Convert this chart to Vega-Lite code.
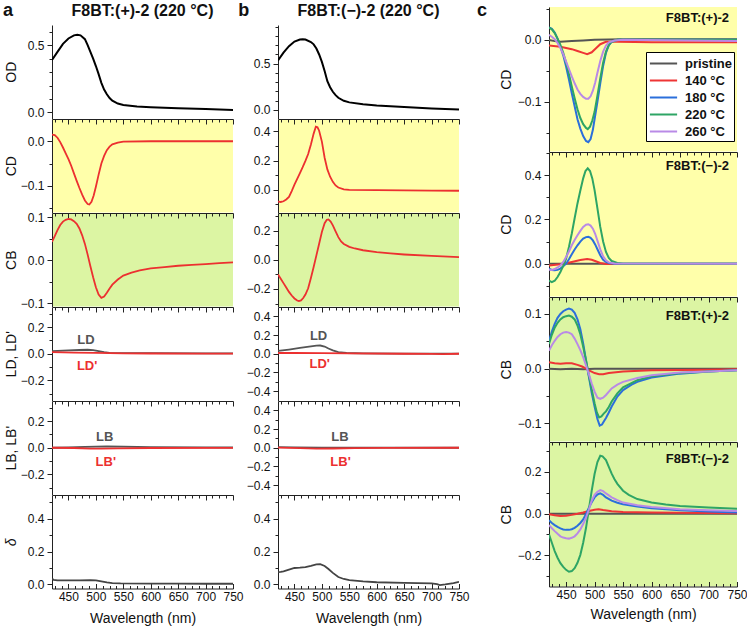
{
"$schema":"https://vega.github.io/schema/vega-lite/v6.json",
"padding":{"left":3,"top":1,"right":0,"bottom":0},
"datasets":{
"odP":[{"w":420,"v":0.39},{"w":430,"v":0.45},{"w":440,"v":0.51},{"w":450,"v":0.55},{"w":460,"v":0.573},{"w":466,"v":0.578},{"w":472,"v":0.573},{"w":480,"v":0.545},{"w":485,"v":0.5},{"w":490,"v":0.45},{"w":495,"v":0.4},{"w":500,"v":0.345},{"w":505,"v":0.285},{"w":510,"v":0.22},{"w":515,"v":0.17},{"w":520,"v":0.135},{"w":525,"v":0.107},{"w":530,"v":0.088},{"w":540,"v":0.066},{"w":550,"v":0.055},{"w":575,"v":0.045},{"w":600,"v":0.039},{"w":650,"v":0.031},{"w":700,"v":0.025},{"w":750,"v":0.019}],
"odM":[{"w":420,"v":0.535},{"w":430,"v":0.62},{"w":440,"v":0.69},{"w":450,"v":0.74},{"w":460,"v":0.763},{"w":465,"v":0.766},{"w":470,"v":0.762},{"w":480,"v":0.735},{"w":485,"v":0.71},{"w":490,"v":0.665},{"w":495,"v":0.6},{"w":500,"v":0.52},{"w":505,"v":0.42},{"w":510,"v":0.31},{"w":515,"v":0.245},{"w":520,"v":0.195},{"w":525,"v":0.158},{"w":530,"v":0.13},{"w":540,"v":0.097},{"w":550,"v":0.08},{"w":575,"v":0.06},{"w":600,"v":0.047},{"w":650,"v":0.029},{"w":700,"v":0.014},{"w":750,"v":0.004}],
"cdP":[{"w":420,"v":0.015},{"w":425,"v":0.014},{"w":430,"v":0.008},{"w":435,"v":-0.002},{"w":440,"v":-0.014},{"w":445,"v":-0.027},{"w":450,"v":-0.04},{"w":455,"v":-0.055},{"w":460,"v":-0.072},{"w":465,"v":-0.089},{"w":470,"v":-0.105},{"w":475,"v":-0.12},{"w":480,"v":-0.133},{"w":485,"v":-0.141},{"w":488,"v":-0.142},{"w":492,"v":-0.136},{"w":496,"v":-0.122},{"w":500,"v":-0.102},{"w":505,"v":-0.075},{"w":510,"v":-0.05},{"w":515,"v":-0.033},{"w":520,"v":-0.02},{"w":525,"v":-0.012},{"w":530,"v":-0.007},{"w":540,"v":-0.003},{"w":550,"v":-0.001},{"w":600,"v":0.0},{"w":650,"v":0.0},{"w":700,"v":0.0},{"w":750,"v":0.0}],
"cdM":[{"w":420,"v":-0.08},{"w":425,"v":-0.083},{"w":430,"v":-0.078},{"w":435,"v":-0.066},{"w":440,"v":-0.048},{"w":445,"v":-0.008},{"w":450,"v":0.035},{"w":455,"v":0.075},{"w":460,"v":0.115},{"w":465,"v":0.155},{"w":470,"v":0.198},{"w":475,"v":0.245},{"w":480,"v":0.31},{"w":485,"v":0.385},{"w":489,"v":0.432},{"w":492,"v":0.428},{"w":495,"v":0.405},{"w":500,"v":0.33},{"w":505,"v":0.22},{"w":510,"v":0.14},{"w":515,"v":0.09},{"w":520,"v":0.055},{"w":525,"v":0.03},{"w":530,"v":0.016},{"w":540,"v":0.004},{"w":550,"v":0.0},{"w":600,"v":-0.002},{"w":650,"v":-0.004},{"w":700,"v":-0.005},{"w":750,"v":-0.006}],
"cbP":[{"w":420,"v":0.043},{"w":425,"v":0.056},{"w":430,"v":0.07},{"w":435,"v":0.082},{"w":440,"v":0.09},{"w":445,"v":0.094},{"w":450,"v":0.096},{"w":455,"v":0.095},{"w":460,"v":0.091},{"w":465,"v":0.085},{"w":470,"v":0.074},{"w":475,"v":0.058},{"w":480,"v":0.038},{"w":485,"v":0.013},{"w":490,"v":-0.014},{"w":495,"v":-0.04},{"w":500,"v":-0.063},{"w":505,"v":-0.08},{"w":510,"v":-0.088},{"w":515,"v":-0.085},{"w":520,"v":-0.076},{"w":525,"v":-0.066},{"w":530,"v":-0.057},{"w":540,"v":-0.045},{"w":550,"v":-0.036},{"w":565,"v":-0.029},{"w":580,"v":-0.024},{"w":600,"v":-0.019},{"w":625,"v":-0.016},{"w":650,"v":-0.013},{"w":675,"v":-0.011},{"w":700,"v":-0.009},{"w":725,"v":-0.007},{"w":750,"v":-0.005}],
"cbM":[{"w":420,"v":-0.1},{"w":425,"v":-0.13},{"w":430,"v":-0.16},{"w":435,"v":-0.19},{"w":440,"v":-0.22},{"w":445,"v":-0.245},{"w":450,"v":-0.265},{"w":455,"v":-0.279},{"w":458,"v":-0.283},{"w":462,"v":-0.278},{"w":466,"v":-0.262},{"w":470,"v":-0.238},{"w":475,"v":-0.195},{"w":480,"v":-0.125},{"w":485,"v":-0.05},{"w":490,"v":0.03},{"w":495,"v":0.11},{"w":500,"v":0.19},{"w":505,"v":0.25},{"w":509,"v":0.274},{"w":512,"v":0.276},{"w":516,"v":0.262},{"w":520,"v":0.235},{"w":525,"v":0.195},{"w":530,"v":0.155},{"w":535,"v":0.125},{"w":540,"v":0.108},{"w":550,"v":0.088},{"w":560,"v":0.077},{"w":575,"v":0.065},{"w":600,"v":0.052},{"w":625,"v":0.043},{"w":650,"v":0.036},{"w":700,"v":0.026},{"w":750,"v":0.018}],
"ldP":[{"s":"LD","w":420,"v":0.02},{"s":"LD","w":430,"v":0.022},{"s":"LD","w":450,"v":0.025},{"s":"LD","w":470,"v":0.028},{"s":"LD","w":485,"v":0.03},{"s":"LD","w":495,"v":0.027},{"s":"LD","w":505,"v":0.02},{"s":"LD","w":515,"v":0.012},{"s":"LD","w":525,"v":0.007},{"s":"LD","w":540,"v":0.005},{"s":"LD","w":600,"v":0.004},{"s":"LD","w":700,"v":0.003},{"s":"LD","w":750,"v":0.003},
{"s":"LD'","w":420,"v":0.012},{"s":"LD'","w":440,"v":0.01},{"s":"LD'","w":460,"v":0.008},{"s":"LD'","w":500,"v":0.006},{"s":"LD'","w":550,"v":0.003},{"s":"LD'","w":600,"v":0.002},{"s":"LD'","w":700,"v":0.001},{"s":"LD'","w":750,"v":0.001}],
"lbP":[{"s":"LB","w":420,"v":0.0},{"s":"LB","w":450,"v":0.002},{"s":"LB","w":480,"v":0.006},{"s":"LB","w":500,"v":0.009},{"s":"LB","w":520,"v":0.01},{"s":"LB","w":550,"v":0.008},{"s":"LB","w":600,"v":0.005},{"s":"LB","w":700,"v":0.003},{"s":"LB","w":750,"v":0.002},
{"s":"LB'","w":420,"v":0.0},{"s":"LB'","w":460,"v":-0.002},{"s":"LB'","w":490,"v":-0.006},{"s":"LB'","w":510,"v":-0.007},{"s":"LB'","w":540,"v":-0.004},{"s":"LB'","w":600,"v":-0.002},{"s":"LB'","w":750,"v":-0.001}],
"dP":[{"w":420,"v":0.035},{"w":423,"v":0.028},{"w":430,"v":0.025},{"w":450,"v":0.024},{"w":470,"v":0.025},{"w":490,"v":0.026},{"w":500,"v":0.024},{"w":510,"v":0.018},{"w":520,"v":0.012},{"w":530,"v":0.008},{"w":545,"v":0.006},{"w":600,"v":0.005},{"w":650,"v":0.005},{"w":700,"v":0.004},{"w":750,"v":0.004}],
"ldM":[{"s":"LD","w":420,"v":0.03},{"s":"LD","w":440,"v":0.045},{"s":"LD","w":460,"v":0.062},{"s":"LD","w":480,"v":0.078},{"s":"LD","w":490,"v":0.086},{"s":"LD","w":497,"v":0.088},{"s":"LD","w":505,"v":0.077},{"s":"LD","w":512,"v":0.056},{"s":"LD","w":520,"v":0.036},{"s":"LD","w":530,"v":0.018},{"s":"LD","w":545,"v":0.008},{"s":"LD","w":575,"v":0.004},{"s":"LD","w":650,"v":0.002},{"s":"LD","w":750,"v":0.001},
{"s":"LD'","w":420,"v":0.008},{"s":"LD'","w":450,"v":0.008},{"s":"LD'","w":500,"v":0.006},{"s":"LD'","w":550,"v":0.003},{"s":"LD'","w":650,"v":0.0},{"s":"LD'","w":700,"v":-0.002},{"s":"LD'","w":720,"v":-0.004},{"s":"LD'","w":750,"v":0.0}],
"lbM":[{"s":"LB","w":420,"v":0.006},{"s":"LB","w":450,"v":0.004},{"s":"LB","w":500,"v":0.002},{"s":"LB","w":600,"v":0.001},{"s":"LB","w":750,"v":0.0},
{"s":"LB'","w":420,"v":0.002},{"s":"LB'","w":460,"v":-0.004},{"s":"LB'","w":490,"v":-0.01},{"s":"LB'","w":520,"v":-0.008},{"s":"LB'","w":560,"v":-0.003},{"s":"LB'","w":620,"v":-0.001},{"s":"LB'","w":750,"v":0.0}],
"dM":[{"w":420,"v":0.075},{"w":425,"v":0.076},{"w":430,"v":0.08},{"w":440,"v":0.09},{"w":450,"v":0.1},{"w":460,"v":0.102},{"w":470,"v":0.105},{"w":480,"v":0.113},{"w":490,"v":0.122},{"w":497,"v":0.123},{"w":505,"v":0.112},{"w":512,"v":0.094},{"w":520,"v":0.07},{"w":530,"v":0.045},{"w":540,"v":0.033},{"w":550,"v":0.026},{"w":575,"v":0.018},{"w":600,"v":0.013},{"w":650,"v":0.009},{"w":700,"v":0.006},{"w":710,"v":0.002},{"w":715,"v":-0.004},{"w":725,"v":0.0},{"w":740,"v":0.008},{"w":750,"v":0.016}],
"c1":[{"s":"pristine","w":420,"v":0.0},{"s":"pristine","w":430,"v":-0.002},{"s":"pristine","w":440,"v":-0.003},{"s":"pristine","w":460,"v":-0.002},{"s":"pristine","w":480,"v":-0.001},{"s":"pristine","w":500,"v":0.0},{"s":"pristine","w":550,"v":0.001},{"s":"pristine","w":650,"v":0.001},{"s":"pristine","w":750,"v":0.001},
{"s":"140 °C","w":420,"v":-0.009},{"s":"140 °C","w":440,"v":-0.011},{"s":"140 °C","w":460,"v":-0.015},{"s":"140 °C","w":470,"v":-0.018},{"s":"140 °C","w":480,"v":-0.021},{"s":"140 °C","w":487,"v":-0.023},{"s":"140 °C","w":495,"v":-0.02},{"s":"140 °C","w":502,"v":-0.014},{"s":"140 °C","w":510,"v":-0.007},{"s":"140 °C","w":520,"v":-0.003},{"s":"140 °C","w":540,"v":-0.003},{"s":"140 °C","w":600,"v":-0.004},{"s":"140 °C","w":750,"v":-0.004},
{"s":"180 °C","w":420,"v":0.02},{"s":"180 °C","w":425,"v":0.018},{"s":"180 °C","w":430,"v":0.012},{"s":"180 °C","w":435,"v":0.002},{"s":"180 °C","w":440,"v":-0.011},{"s":"180 °C","w":445,"v":-0.025},{"s":"180 °C","w":450,"v":-0.043},{"s":"180 °C","w":455,"v":-0.064},{"s":"180 °C","w":460,"v":-0.086},{"s":"180 °C","w":465,"v":-0.107},{"s":"180 °C","w":470,"v":-0.128},{"s":"180 °C","w":475,"v":-0.143},{"s":"180 °C","w":480,"v":-0.155},{"s":"180 °C","w":485,"v":-0.163},{"s":"180 °C","w":489,"v":-0.165},{"s":"180 °C","w":493,"v":-0.16},{"s":"180 °C","w":497,"v":-0.145},{"s":"180 °C","w":500,"v":-0.128},{"s":"180 °C","w":505,"v":-0.1},{"s":"180 °C","w":510,"v":-0.07},{"s":"180 °C","w":515,"v":-0.042},{"s":"180 °C","w":520,"v":-0.021},{"s":"180 °C","w":525,"v":-0.009},{"s":"180 °C","w":530,"v":-0.003},{"s":"180 °C","w":540,"v":0.0},{"s":"180 °C","w":750,"v":0.0},
{"s":"220 °C","w":420,"v":0.02},{"s":"220 °C","w":425,"v":0.017},{"s":"220 °C","w":430,"v":0.011},{"s":"220 °C","w":435,"v":0.002},{"s":"220 °C","w":440,"v":-0.008},{"s":"220 °C","w":445,"v":-0.021},{"s":"220 °C","w":450,"v":-0.037},{"s":"220 °C","w":455,"v":-0.055},{"s":"220 °C","w":460,"v":-0.075},{"s":"220 °C","w":465,"v":-0.094},{"s":"220 °C","w":470,"v":-0.112},{"s":"220 °C","w":475,"v":-0.126},{"s":"220 °C","w":480,"v":-0.136},{"s":"220 °C","w":485,"v":-0.142},{"s":"220 °C","w":488,"v":-0.144},{"s":"220 °C","w":492,"v":-0.14},{"s":"220 °C","w":496,"v":-0.13},{"s":"220 °C","w":500,"v":-0.116},{"s":"220 °C","w":505,"v":-0.09},{"s":"220 °C","w":510,"v":-0.062},{"s":"220 °C","w":515,"v":-0.037},{"s":"220 °C","w":520,"v":-0.019},{"s":"220 °C","w":525,"v":-0.008},{"s":"220 °C","w":530,"v":-0.003},{"s":"220 °C","w":540,"v":0.0},{"s":"220 °C","w":750,"v":0.0},
{"s":"260 °C","w":420,"v":0.008},{"s":"260 °C","w":425,"v":0.005},{"s":"260 °C","w":430,"v":0.001},{"s":"260 °C","w":435,"v":-0.005},{"s":"260 °C","w":440,"v":-0.013},{"s":"260 °C","w":445,"v":-0.023},{"s":"260 °C","w":450,"v":-0.035},{"s":"260 °C","w":455,"v":-0.047},{"s":"260 °C","w":460,"v":-0.059},{"s":"260 °C","w":465,"v":-0.07},{"s":"260 °C","w":470,"v":-0.08},{"s":"260 °C","w":475,"v":-0.087},{"s":"260 °C","w":480,"v":-0.092},{"s":"260 °C","w":485,"v":-0.095},{"s":"260 °C","w":489,"v":-0.095},{"s":"260 °C","w":493,"v":-0.091},{"s":"260 °C","w":497,"v":-0.082},{"s":"260 °C","w":501,"v":-0.069},{"s":"260 °C","w":505,"v":-0.053},{"s":"260 °C","w":510,"v":-0.034},{"s":"260 °C","w":515,"v":-0.019},{"s":"260 °C","w":520,"v":-0.009},{"s":"260 °C","w":525,"v":-0.004},{"s":"260 °C","w":535,"v":-0.001},{"s":"260 °C","w":550,"v":0.0},{"s":"260 °C","w":750,"v":-0.002}],
"c2":[{"s":"pristine","w":420,"v":0.0},{"s":"pristine","w":500,"v":0.0},{"s":"pristine","w":750,"v":0.0},
{"s":"140 °C","w":420,"v":-0.008},{"s":"140 °C","w":440,"v":-0.003},{"s":"140 °C","w":460,"v":0.008},{"s":"140 °C","w":475,"v":0.017},{"s":"140 °C","w":487,"v":0.021},{"s":"140 °C","w":495,"v":0.018},{"s":"140 °C","w":502,"v":0.011},{"s":"140 °C","w":510,"v":0.003},{"s":"140 °C","w":520,"v":-0.001},{"s":"140 °C","w":750,"v":-0.001},
{"s":"180 °C","w":420,"v":-0.023},{"s":"180 °C","w":425,"v":-0.028},{"s":"180 °C","w":430,"v":-0.03},{"s":"180 °C","w":435,"v":-0.028},{"s":"180 °C","w":440,"v":-0.022},{"s":"180 °C","w":445,"v":-0.012},{"s":"180 °C","w":450,"v":0.0},{"s":"180 °C","w":455,"v":0.02},{"s":"180 °C","w":460,"v":0.043},{"s":"180 °C","w":465,"v":0.064},{"s":"180 °C","w":470,"v":0.083},{"s":"180 °C","w":475,"v":0.1},{"s":"180 °C","w":480,"v":0.113},{"s":"180 °C","w":485,"v":0.12},{"s":"180 °C","w":489,"v":0.121},{"s":"180 °C","w":493,"v":0.117},{"s":"180 °C","w":497,"v":0.105},{"s":"180 °C","w":501,"v":0.087},{"s":"180 °C","w":505,"v":0.065},{"s":"180 °C","w":510,"v":0.038},{"s":"180 °C","w":515,"v":0.018},{"s":"180 °C","w":520,"v":0.008},{"s":"180 °C","w":525,"v":0.003},{"s":"180 °C","w":535,"v":0.0},{"s":"180 °C","w":750,"v":0.0},
{"s":"220 °C","w":420,"v":-0.076},{"s":"220 °C","w":425,"v":-0.083},{"s":"220 °C","w":430,"v":-0.077},{"s":"220 °C","w":435,"v":-0.06},{"s":"220 °C","w":440,"v":-0.038},{"s":"220 °C","w":445,"v":-0.01},{"s":"220 °C","w":450,"v":0.023},{"s":"220 °C","w":455,"v":0.075},{"s":"220 °C","w":460,"v":0.136},{"s":"220 °C","w":465,"v":0.205},{"s":"220 °C","w":470,"v":0.272},{"s":"220 °C","w":475,"v":0.33},{"s":"220 °C","w":480,"v":0.385},{"s":"220 °C","w":484,"v":0.418},{"s":"220 °C","w":488,"v":0.43},{"s":"220 °C","w":492,"v":0.418},{"s":"220 °C","w":496,"v":0.385},{"s":"220 °C","w":500,"v":0.332},{"s":"220 °C","w":505,"v":0.25},{"s":"220 °C","w":510,"v":0.166},{"s":"220 °C","w":515,"v":0.1},{"s":"220 °C","w":520,"v":0.053},{"s":"220 °C","w":525,"v":0.026},{"s":"220 °C","w":530,"v":0.012},{"s":"220 °C","w":540,"v":0.003},{"s":"220 °C","w":550,"v":0.0},{"s":"220 °C","w":750,"v":0.0},
{"s":"260 °C","w":420,"v":-0.027},{"s":"260 °C","w":425,"v":-0.028},{"s":"260 °C","w":430,"v":-0.024},{"s":"260 °C","w":435,"v":-0.017},{"s":"260 °C","w":440,"v":-0.008},{"s":"260 °C","w":445,"v":0.008},{"s":"260 °C","w":450,"v":0.03},{"s":"260 °C","w":455,"v":0.055},{"s":"260 °C","w":460,"v":0.083},{"s":"260 °C","w":465,"v":0.107},{"s":"260 °C","w":470,"v":0.128},{"s":"260 °C","w":475,"v":0.148},{"s":"260 °C","w":480,"v":0.166},{"s":"260 °C","w":485,"v":0.176},{"s":"260 °C","w":489,"v":0.178},{"s":"260 °C","w":493,"v":0.172},{"s":"260 °C","w":497,"v":0.158},{"s":"260 °C","w":501,"v":0.135},{"s":"260 °C","w":505,"v":0.104},{"s":"260 °C","w":510,"v":0.065},{"s":"260 °C","w":515,"v":0.033},{"s":"260 °C","w":520,"v":0.015},{"s":"260 °C","w":525,"v":0.006},{"s":"260 °C","w":535,"v":0.001},{"s":"260 °C","w":750,"v":0.0}],
"c3":[{"s":"pristine","w":420,"v":0.0},{"s":"pristine","w":440,"v":-0.001},{"s":"pristine","w":460,"v":0.0},{"s":"pristine","w":480,"v":-0.001},{"s":"pristine","w":500,"v":0.0},{"s":"pristine","w":600,"v":0.0},{"s":"pristine","w":750,"v":0.0},
{"s":"140 °C","w":420,"v":0.012},{"s":"140 °C","w":430,"v":0.01},{"s":"140 °C","w":440,"v":0.009},{"s":"140 °C","w":450,"v":0.01},{"s":"140 °C","w":460,"v":0.01},{"s":"140 °C","w":470,"v":0.007},{"s":"140 °C","w":478,"v":0.004},{"s":"140 °C","w":485,"v":0.0},{"s":"140 °C","w":492,"v":-0.004},{"s":"140 °C","w":500,"v":-0.008},{"s":"140 °C","w":508,"v":-0.01},{"s":"140 °C","w":515,"v":-0.01},{"s":"140 °C","w":525,"v":-0.008},{"s":"140 °C","w":550,"v":-0.005},{"s":"140 °C","w":600,"v":-0.003},{"s":"140 °C","w":700,"v":-0.002},{"s":"140 °C","w":750,"v":-0.001},
{"s":"180 °C","w":420,"v":0.05},{"s":"180 °C","w":425,"v":0.068},{"s":"180 °C","w":430,"v":0.082},{"s":"180 °C","w":435,"v":0.093},{"s":"180 °C","w":440,"v":0.1},{"s":"180 °C","w":445,"v":0.105},{"s":"180 °C","w":450,"v":0.108},{"s":"180 °C","w":455,"v":0.11},{"s":"180 °C","w":460,"v":0.108},{"s":"180 °C","w":465,"v":0.102},{"s":"180 °C","w":470,"v":0.09},{"s":"180 °C","w":475,"v":0.072},{"s":"180 °C","w":480,"v":0.046},{"s":"180 °C","w":485,"v":0.015},{"s":"180 °C","w":490,"v":-0.015},{"s":"180 °C","w":495,"v":-0.044},{"s":"180 °C","w":500,"v":-0.069},{"s":"180 °C","w":505,"v":-0.092},{"s":"180 °C","w":509,"v":-0.104},{"s":"180 °C","w":513,"v":-0.102},{"s":"180 °C","w":517,"v":-0.095},{"s":"180 °C","w":520,"v":-0.09},{"s":"180 °C","w":525,"v":-0.08},{"s":"180 °C","w":530,"v":-0.069},{"s":"180 °C","w":540,"v":-0.051},{"s":"180 °C","w":550,"v":-0.039},{"s":"180 °C","w":565,"v":-0.029},{"s":"180 °C","w":575,"v":-0.024},{"s":"180 °C","w":600,"v":-0.016},{"s":"180 °C","w":650,"v":-0.009},{"s":"180 °C","w":700,"v":-0.005},{"s":"180 °C","w":750,"v":-0.003},
{"s":"220 °C","w":420,"v":0.045},{"s":"220 °C","w":425,"v":0.062},{"s":"220 °C","w":430,"v":0.075},{"s":"220 °C","w":435,"v":0.084},{"s":"220 °C","w":440,"v":0.09},{"s":"220 °C","w":445,"v":0.094},{"s":"220 °C","w":450,"v":0.096},{"s":"220 °C","w":455,"v":0.097},{"s":"220 °C","w":460,"v":0.095},{"s":"220 °C","w":465,"v":0.09},{"s":"220 °C","w":470,"v":0.079},{"s":"220 °C","w":475,"v":0.063},{"s":"220 °C","w":480,"v":0.04},{"s":"220 °C","w":485,"v":0.015},{"s":"220 °C","w":490,"v":-0.012},{"s":"220 °C","w":495,"v":-0.038},{"s":"220 °C","w":500,"v":-0.063},{"s":"220 °C","w":504,"v":-0.08},{"s":"220 °C","w":508,"v":-0.089},{"s":"220 °C","w":512,"v":-0.087},{"s":"220 °C","w":516,"v":-0.082},{"s":"220 °C","w":520,"v":-0.078},{"s":"220 °C","w":525,"v":-0.07},{"s":"220 °C","w":530,"v":-0.06},{"s":"220 °C","w":540,"v":-0.045},{"s":"220 °C","w":550,"v":-0.034},{"s":"220 °C","w":575,"v":-0.021},{"s":"220 °C","w":600,"v":-0.014},{"s":"220 °C","w":650,"v":-0.008},{"s":"220 °C","w":700,"v":-0.005},{"s":"220 °C","w":750,"v":-0.003},
{"s":"260 °C","w":420,"v":0.033},{"s":"260 °C","w":425,"v":0.043},{"s":"260 °C","w":430,"v":0.051},{"s":"260 °C","w":435,"v":0.058},{"s":"260 °C","w":440,"v":0.063},{"s":"260 °C","w":445,"v":0.066},{"s":"260 °C","w":450,"v":0.067},{"s":"260 °C","w":455,"v":0.066},{"s":"260 °C","w":460,"v":0.063},{"s":"260 °C","w":465,"v":0.055},{"s":"260 °C","w":470,"v":0.045},{"s":"260 °C","w":475,"v":0.034},{"s":"260 °C","w":480,"v":0.021},{"s":"260 °C","w":485,"v":0.006},{"s":"260 °C","w":490,"v":-0.01},{"s":"260 °C","w":495,"v":-0.027},{"s":"260 °C","w":500,"v":-0.042},{"s":"260 °C","w":505,"v":-0.053},{"s":"260 °C","w":510,"v":-0.055},{"s":"260 °C","w":515,"v":-0.053},{"s":"260 °C","w":520,"v":-0.048},{"s":"260 °C","w":530,"v":-0.036},{"s":"260 °C","w":540,"v":-0.029},{"s":"260 °C","w":550,"v":-0.024},{"s":"260 °C","w":575,"v":-0.017},{"s":"260 °C","w":600,"v":-0.012},{"s":"260 °C","w":650,"v":-0.007},{"s":"260 °C","w":700,"v":-0.005},{"s":"260 °C","w":750,"v":-0.003}],
"c4":[{"s":"pristine","w":420,"v":0.0},{"s":"pristine","w":500,"v":0.0},{"s":"pristine","w":750,"v":0.0},
{"s":"140 °C","w":420,"v":-0.003},{"s":"140 °C","w":430,"v":-0.008},{"s":"140 °C","w":440,"v":-0.011},{"s":"140 °C","w":450,"v":-0.01},{"s":"140 °C","w":460,"v":-0.006},{"s":"140 °C","w":470,"v":-0.001},{"s":"140 °C","w":480,"v":0.005},{"s":"140 °C","w":490,"v":0.013},{"s":"140 °C","w":500,"v":0.019},{"s":"140 °C","w":507,"v":0.021},{"s":"140 °C","w":515,"v":0.017},{"s":"140 °C","w":530,"v":0.011},{"s":"140 °C","w":550,"v":0.008},{"s":"140 °C","w":600,"v":0.005},{"s":"140 °C","w":700,"v":0.003},{"s":"140 °C","w":750,"v":0.002},
{"s":"180 °C","w":420,"v":-0.032},{"s":"180 °C","w":425,"v":-0.045},{"s":"180 °C","w":430,"v":-0.055},{"s":"180 °C","w":435,"v":-0.064},{"s":"180 °C","w":440,"v":-0.071},{"s":"180 °C","w":445,"v":-0.076},{"s":"180 °C","w":450,"v":-0.078},{"s":"180 °C","w":455,"v":-0.078},{"s":"180 °C","w":460,"v":-0.075},{"s":"180 °C","w":465,"v":-0.068},{"s":"180 °C","w":470,"v":-0.058},{"s":"180 °C","w":475,"v":-0.045},{"s":"180 °C","w":480,"v":-0.028},{"s":"180 °C","w":485,"v":-0.002},{"s":"180 °C","w":490,"v":0.029},{"s":"180 °C","w":495,"v":0.055},{"s":"180 °C","w":500,"v":0.078},{"s":"180 °C","w":505,"v":0.092},{"s":"180 °C","w":510,"v":0.097},{"s":"180 °C","w":515,"v":0.09},{"s":"180 °C","w":520,"v":0.078},{"s":"180 °C","w":530,"v":0.062},{"s":"180 °C","w":540,"v":0.052},{"s":"180 °C","w":550,"v":0.045},{"s":"180 °C","w":575,"v":0.034},{"s":"180 °C","w":600,"v":0.026},{"s":"180 °C","w":650,"v":0.016},{"s":"180 °C","w":700,"v":0.01},{"s":"180 °C","w":750,"v":0.006},
{"s":"220 °C","w":420,"v":-0.1},{"s":"220 °C","w":425,"v":-0.14},{"s":"220 °C","w":430,"v":-0.18},{"s":"220 °C","w":435,"v":-0.212},{"s":"220 °C","w":440,"v":-0.238},{"s":"220 °C","w":445,"v":-0.256},{"s":"220 °C","w":450,"v":-0.27},{"s":"220 °C","w":455,"v":-0.279},{"s":"220 °C","w":460,"v":-0.276},{"s":"220 °C","w":465,"v":-0.262},{"s":"220 °C","w":470,"v":-0.236},{"s":"220 °C","w":475,"v":-0.198},{"s":"220 °C","w":480,"v":-0.14},{"s":"220 °C","w":485,"v":-0.068},{"s":"220 °C","w":490,"v":0.02},{"s":"220 °C","w":495,"v":0.11},{"s":"220 °C","w":500,"v":0.19},{"s":"220 °C","w":505,"v":0.248},{"s":"220 °C","w":510,"v":0.278},{"s":"220 °C","w":514,"v":0.275},{"s":"220 °C","w":520,"v":0.257},{"s":"220 °C","w":525,"v":0.225},{"s":"220 °C","w":530,"v":0.192},{"s":"220 °C","w":535,"v":0.165},{"s":"220 °C","w":540,"v":0.143},{"s":"220 °C","w":550,"v":0.11},{"s":"220 °C","w":560,"v":0.09},{"s":"220 °C","w":575,"v":0.07},{"s":"220 °C","w":600,"v":0.053},{"s":"220 °C","w":625,"v":0.044},{"s":"220 °C","w":650,"v":0.037},{"s":"220 °C","w":700,"v":0.029},{"s":"220 °C","w":750,"v":0.024},
{"s":"260 °C","w":420,"v":-0.055},{"s":"260 °C","w":425,"v":-0.07},{"s":"260 °C","w":430,"v":-0.084},{"s":"260 °C","w":435,"v":-0.097},{"s":"260 °C","w":440,"v":-0.109},{"s":"260 °C","w":445,"v":-0.115},{"s":"260 °C","w":450,"v":-0.118},{"s":"260 °C","w":455,"v":-0.12},{"s":"260 °C","w":460,"v":-0.116},{"s":"260 °C","w":465,"v":-0.109},{"s":"260 °C","w":470,"v":-0.095},{"s":"260 °C","w":475,"v":-0.076},{"s":"260 °C","w":480,"v":-0.05},{"s":"260 °C","w":485,"v":-0.019},{"s":"260 °C","w":490,"v":0.02},{"s":"260 °C","w":495,"v":0.062},{"s":"260 °C","w":500,"v":0.09},{"s":"260 °C","w":505,"v":0.105},{"s":"260 °C","w":510,"v":0.113},{"s":"260 °C","w":515,"v":0.108},{"s":"260 °C","w":520,"v":0.097},{"s":"260 °C","w":530,"v":0.078},{"s":"260 °C","w":540,"v":0.065},{"s":"260 °C","w":550,"v":0.053},{"s":"260 °C","w":575,"v":0.04},{"s":"260 °C","w":600,"v":0.032},{"s":"260 °C","w":650,"v":0.021},{"s":"260 °C","w":700,"v":0.016},{"s":"260 °C","w":750,"v":0.013}],
"lab":[{"p":"aLD","t":"LD","w":482,"v":0.104},{"p":"aLD","t":"LD'","w":484,"v":-0.093},{"p":"aLB","t":"LB","w":516,"v":0.081},{"p":"aLB","t":"LB'","w":518,"v":-0.104},{"p":"bLD","t":"LD","w":494,"v":0.186},{"p":"bLD","t":"LD'","w":496,"v":-0.11},{"p":"bLB","t":"LB","w":533,"v":0.117},{"p":"bLB","t":"LB'","w":534,"v":-0.156},{"p":"c1","t":"F8BT:(+)-2","w":736,"v":0.036},{"p":"c2","t":"F8BT:(−)-2","w":736,"v":0.44},{"p":"c3","t":"F8BT:(+)-2","w":736,"v":0.097},{"p":"c4","t":"F8BT:(−)-2","w":736,"v":0.26}],
"heads":[{"p":"a","t":"F8BT:(+)-2 (220 °C)"},{"p":"b","t":"F8BT:(−)-2 (220 °C)"}]
},
"columns":2,
"spacing":{"column":7,"row":0},
"concat":[
{"columns":2,"spacing":{"column":-6,"row":0},"concat":[
{"title":{"text":"a","anchor":"start","frame":"bounds","fontSize":18,"fontWeight":"bold","offset":-17,"dx":-1},
 "spacing":0,"bounds":"flush",
 "vconcat":[
  {"width":181,"height":18,
   "data":{"name":"heads"},"transform":[{"filter":"datum.p === 'a'"}],
   "mark":{"type":"text","fontSize":16,"fontWeight":"bold","baseline":"alphabetic","color":"#111111"},
   "encoding":{"text":{"field":"t"}}},
  {"width":181,"height":93.5,
   "data":{"name":"odP"},
   "mark":{"type":"line","color":"#000000","strokeWidth":2,"clip":true},
   "encoding":{
    "x":{"field":"w","type":"quantitative","scale":{"domain":[420,750],"nice":false,"zero":false},"axis":null},
    "y":{"field":"v","type":"quantitative","scale":{"domain":[-0.045,0.65],"nice":false,"zero":false},"axis":{"title":"OD","titleX":-34,"labelPadding":3,"values":[0,0.1,0.2,0.3,0.4,0.5,0.6],"labelExpr":"abs(datum.value/0.5-round(datum.value/0.5))<1e-6 ? format(datum.value,'.1f') : ''","tickSize":{"condition":{"test":"abs(datum.value/0.5-round(datum.value/0.5))<1e-6","value":5},"value":3}}}
   }},
  {"width":181,"height":93.5,"view":{"fill":"#ffffaa","stroke":null},
   "data":{"name":"cdP"},
   "mark":{"type":"line","color":"#ec3030","strokeWidth":1.8,"clip":true},
   "encoding":{
    "x":{"field":"w","type":"quantitative","scale":{"domain":[420,750],"nice":false,"zero":false},"axis":{"orient":"top","title":null,"labels":false,"values":[425,437.5,450,462.5,475,487.5,500,512.5,525,537.5,550,562.5,575,587.5,600,612.5,625,637.5,650,662.5,675,687.5,700,712.5,725,737.5,750],"tickSize":{"condition":{"test":"datum.value % 50 === 0","value":-5},"value":-3}}},
    "y":{"field":"v","type":"quantitative","scale":{"domain":[-0.16,0.05],"nice":false,"zero":false},"axis":{"title":"CD","titleX":-34,"labelPadding":3,"values":[-0.15,-0.1,-0.05,0],"labelExpr":"abs(datum.value/0.1-round(datum.value/0.1))<1e-6 ? format(datum.value,'.1f') : ''","tickSize":{"condition":{"test":"abs(datum.value/0.1-round(datum.value/0.1))<1e-6","value":5},"value":3}}}
   }},
  {"width":181,"height":93.5,"view":{"fill":"#dcf5a3","stroke":null},
   "data":{"name":"cbP"},
   "mark":{"type":"line","color":"#ec3030","strokeWidth":1.8,"clip":true},
   "encoding":{
    "x":{"field":"w","type":"quantitative","scale":{"domain":[420,750],"nice":false,"zero":false},"axis":{"orient":"top","title":null,"labels":false,"values":[425,437.5,450,462.5,475,487.5,500,512.5,525,537.5,550,562.5,575,587.5,600,612.5,625,637.5,650,662.5,675,687.5,700,712.5,725,737.5,750],"tickSize":{"condition":{"test":"datum.value % 50 === 0","value":-5},"value":-3}}},
    "y":{"field":"v","type":"quantitative","scale":{"domain":[-0.108,0.11],"nice":false,"zero":false},"axis":{"title":"CB","titleX":-34,"labelPadding":3,"values":[-0.1,-0.05,0,0.05,0.1],"labelExpr":"abs(datum.value/0.1-round(datum.value/0.1))<1e-6 ? format(datum.value,'.1f') : ''","tickSize":{"condition":{"test":"abs(datum.value/0.1-round(datum.value/0.1))<1e-6","value":5},"value":3}}}
   }},
  {"width":181,"height":93.5,
   "encoding":{
    "x":{"field":"w","type":"quantitative","scale":{"domain":[420,750],"nice":false,"zero":false},"axis":{"orient":"top","title":null,"labels":false,"values":[425,437.5,450,462.5,475,487.5,500,512.5,525,537.5,550,562.5,575,587.5,600,612.5,625,637.5,650,662.5,675,687.5,700,712.5,725,737.5,750],"tickSize":{"condition":{"test":"datum.value % 50 === 0","value":-5},"value":-3}}},
    "y":{"field":"v","type":"quantitative","scale":{"domain":[-0.35,0.35],"nice":false,"zero":false},"axis":{"title":"LD, LD'","titleX":-34,"labelPadding":3,"values":[-0.3,-0.2,-0.1,0,0.1,0.2,0.3],"labelExpr":"abs(datum.value/0.2-round(datum.value/0.2))<1e-6 ? format(datum.value,'.1f') : ''","tickSize":{"condition":{"test":"abs(datum.value/0.2-round(datum.value/0.2))<1e-6","value":5},"value":3}}}
   },
   "layer":[
    {"data":{"name":"ldP"},"transform":[{"filter":"datum.s === 'LD'"}],"mark":{"type":"line","color":"#555555","strokeWidth":1.8,"clip":true}},
    {"data":{"name":"ldP"},"transform":[{"filter":"datum.s !== 'LD'"}],"mark":{"type":"line","color":"#ec3030","strokeWidth":1.8,"clip":true}},
    {"data":{"name":"lab"},"transform":[{"filter":"datum.p === 'aLD' && datum.t === 'LD'"}],"mark":{"type":"text","color":"#555555","fontSize":13,"fontWeight":"bold"},"encoding":{"text":{"field":"t"}}},
    {"data":{"name":"lab"},"transform":[{"filter":"datum.p === 'aLD' && datum.t !== 'LD'"}],"mark":{"type":"text","color":"#ec3030","fontSize":13,"fontWeight":"bold"},"encoding":{"text":{"field":"t"}}}
   ]},
  {"width":181,"height":93.5,
   "encoding":{
    "x":{"field":"w","type":"quantitative","scale":{"domain":[420,750],"nice":false,"zero":false},"axis":{"orient":"top","title":null,"labels":false,"values":[425,437.5,450,462.5,475,487.5,500,512.5,525,537.5,550,562.5,575,587.5,600,612.5,625,637.5,650,662.5,675,687.5,700,712.5,725,737.5,750],"tickSize":{"condition":{"test":"datum.value % 50 === 0","value":-5},"value":-3}}},
    "y":{"field":"v","type":"quantitative","scale":{"domain":[-0.35,0.35],"nice":false,"zero":false},"axis":{"title":"LB, LB'","titleX":-34,"labelPadding":3,"values":[-0.3,-0.2,-0.1,0,0.1,0.2,0.3],"labelExpr":"abs(datum.value/0.2-round(datum.value/0.2))<1e-6 ? format(datum.value,'.1f') : ''","tickSize":{"condition":{"test":"abs(datum.value/0.2-round(datum.value/0.2))<1e-6","value":5},"value":3}}}
   },
   "layer":[
    {"data":{"name":"lbP"},"transform":[{"filter":"datum.s === 'LB'"}],"mark":{"type":"line","color":"#555555","strokeWidth":1.8,"clip":true}},
    {"data":{"name":"lbP"},"transform":[{"filter":"datum.s !== 'LB'"}],"mark":{"type":"line","color":"#ec3030","strokeWidth":1.8,"clip":true}},
    {"data":{"name":"lab"},"transform":[{"filter":"datum.p === 'aLB' && datum.t === 'LB'"}],"mark":{"type":"text","color":"#555555","fontSize":13,"fontWeight":"bold"},"encoding":{"text":{"field":"t"}}},
    {"data":{"name":"lab"},"transform":[{"filter":"datum.p === 'aLB' && datum.t !== 'LB'"}],"mark":{"type":"text","color":"#ec3030","fontSize":13,"fontWeight":"bold"},"encoding":{"text":{"field":"t"}}}
   ]},
  {"width":181,"height":93.5,
   "data":{"name":"dP"},
   "encoding":{
    "y":{"field":"v","type":"quantitative","scale":{"domain":[-0.025,0.545],"nice":false,"zero":false},"axis":{"title":"δ","titleFontStyle":"italic","titleX":-34,"labelPadding":3,"values":[0,0.1,0.2,0.3,0.4,0.5],"labelExpr":"abs(datum.value/0.2-round(datum.value/0.2))<1e-6 ? format(datum.value,'.1f') : ''","tickSize":{"condition":{"test":"abs(datum.value/0.2-round(datum.value/0.2))<1e-6","value":5},"value":3}}}
   },
   "layer":[
    {"mark":{"type":"line","color":"#444444","strokeWidth":1.8,"clip":true},
     "encoding":{"x":{"field":"w","type":"quantitative","scale":{"domain":[420,750],"nice":false,"zero":false},"axis":{"orient":"top","title":null,"labels":false,"values":[425,437.5,450,462.5,475,487.5,500,512.5,525,537.5,550,562.5,575,587.5,600,612.5,625,637.5,650,662.5,675,687.5,700,712.5,725,737.5,750],"tickSize":{"condition":{"test":"datum.value % 50 === 0","value":-5},"value":-3}}}}},
    {"mark":{"type":"line","strokeOpacity":0},
     "encoding":{"x":{"field":"w","type":"quantitative","scale":{"domain":[420,750],"nice":false,"zero":false},"axis":{"orient":"bottom","title":"Wavelength (nm)","titlePadding":7,"labelPadding":8,"values":[425,437.5,450,462.5,475,487.5,500,512.5,525,537.5,550,562.5,575,587.5,600,612.5,625,637.5,650,662.5,675,687.5,700,712.5,725,737.5,750],"labelExpr":"datum.value % 50 === 0 ? format(datum.value,'d') : ''","tickSize":{"condition":{"test":"datum.value % 50 === 0","value":-5},"value":-3}}}}}
   ],
   "resolve":{"axis":{"x":"independent"}}}
 ]},
{"title":{"text":"b","anchor":"start","frame":"bounds","fontSize":18,"fontWeight":"bold","offset":-17,"dx":-8},
 "spacing":0,"bounds":"flush",
 "vconcat":[
  {"width":181,"height":18,
   "data":{"name":"heads"},"transform":[{"filter":"datum.p === 'b'"}],
   "mark":{"type":"text","fontSize":16,"fontWeight":"bold","baseline":"alphabetic","color":"#111111"},
   "encoding":{"text":{"field":"t"}}},
  {"width":181,"height":93.5,
   "data":{"name":"odM"},
   "mark":{"type":"line","color":"#000000","strokeWidth":2,"clip":true},
   "encoding":{
    "x":{"field":"w","type":"quantitative","scale":{"domain":[420,750],"nice":false,"zero":false},"axis":null},
    "y":{"field":"v","type":"quantitative","scale":{"domain":[-0.095,0.92],"nice":false,"zero":false},"axis":{"title":null,"labelPadding":3,"values":[0,0.1,0.2,0.3,0.4,0.5,0.6,0.7,0.8,0.9],"labelExpr":"abs(datum.value/0.5-round(datum.value/0.5))<1e-6 ? format(datum.value,'.1f') : ''","tickSize":{"condition":{"test":"abs(datum.value/0.5-round(datum.value/0.5))<1e-6","value":5},"value":3}}}
   }},
  {"width":181,"height":93.5,"view":{"fill":"#ffffaa","stroke":null},
   "data":{"name":"cdM"},
   "mark":{"type":"line","color":"#ec3030","strokeWidth":1.8,"clip":true},
   "encoding":{
    "x":{"field":"w","type":"quantitative","scale":{"domain":[420,750],"nice":false,"zero":false},"axis":{"orient":"top","title":null,"labels":false,"values":[425,437.5,450,462.5,475,487.5,500,512.5,525,537.5,550,562.5,575,587.5,600,612.5,625,637.5,650,662.5,675,687.5,700,712.5,725,737.5,750],"tickSize":{"condition":{"test":"datum.value % 50 === 0","value":-5},"value":-3}}},
    "y":{"field":"v","type":"quantitative","scale":{"domain":[-0.155,0.485],"nice":false,"zero":false},"axis":{"title":null,"labelPadding":3,"values":[-0.1,0,0.1,0.2,0.3,0.4],"labelExpr":"abs(datum.value/0.2-round(datum.value/0.2))<1e-6 ? format(datum.value,'.1f') : ''","tickSize":{"condition":{"test":"abs(datum.value/0.2-round(datum.value/0.2))<1e-6","value":5},"value":3}}}
   }},
  {"width":181,"height":93.5,"view":{"fill":"#dcf5a3","stroke":null},
   "data":{"name":"cbM"},
   "mark":{"type":"line","color":"#ec3030","strokeWidth":1.8,"clip":true},
   "encoding":{
    "x":{"field":"w","type":"quantitative","scale":{"domain":[420,750],"nice":false,"zero":false},"axis":{"orient":"top","title":null,"labels":false,"values":[425,437.5,450,462.5,475,487.5,500,512.5,525,537.5,550,562.5,575,587.5,600,612.5,625,637.5,650,662.5,675,687.5,700,712.5,725,737.5,750],"tickSize":{"condition":{"test":"datum.value % 50 === 0","value":-5},"value":-3}}},
    "y":{"field":"v","type":"quantitative","scale":{"domain":[-0.32,0.32],"nice":false,"zero":false},"axis":{"title":null,"labelPadding":3,"values":[-0.3,-0.2,-0.1,0,0.1,0.2,0.3],"labelExpr":"abs(datum.value/0.2-round(datum.value/0.2))<1e-6 ? format(datum.value,'.1f') : ''","tickSize":{"condition":{"test":"abs(datum.value/0.2-round(datum.value/0.2))<1e-6","value":5},"value":3}}}
   }},
  {"width":181,"height":93.5,
   "encoding":{
    "x":{"field":"w","type":"quantitative","scale":{"domain":[420,750],"nice":false,"zero":false},"axis":{"orient":"top","title":null,"labels":false,"values":[425,437.5,450,462.5,475,487.5,500,512.5,525,537.5,550,562.5,575,587.5,600,612.5,625,637.5,650,662.5,675,687.5,700,712.5,725,737.5,750],"tickSize":{"condition":{"test":"datum.value % 50 === 0","value":-5},"value":-3}}},
    "y":{"field":"v","type":"quantitative","scale":{"domain":[-0.5,0.5],"nice":false,"zero":false},"axis":{"title":null,"labelPadding":3,"values":[-0.4,-0.3,-0.2,-0.1,0,0.1,0.2,0.3,0.4],"labelExpr":"abs(datum.value/0.2-round(datum.value/0.2))<1e-6 ? format(datum.value,'.1f') : ''","tickSize":{"condition":{"test":"abs(datum.value/0.2-round(datum.value/0.2))<1e-6","value":5},"value":3}}}
   },
   "layer":[
    {"data":{"name":"ldM"},"transform":[{"filter":"datum.s === 'LD'"}],"mark":{"type":"line","color":"#555555","strokeWidth":1.8,"clip":true}},
    {"data":{"name":"ldM"},"transform":[{"filter":"datum.s !== 'LD'"}],"mark":{"type":"line","color":"#ec3030","strokeWidth":1.8,"clip":true}},
    {"data":{"name":"lab"},"transform":[{"filter":"datum.p === 'bLD' && datum.t === 'LD'"}],"mark":{"type":"text","color":"#555555","fontSize":13,"fontWeight":"bold"},"encoding":{"text":{"field":"t"}}},
    {"data":{"name":"lab"},"transform":[{"filter":"datum.p === 'bLD' && datum.t !== 'LD'"}],"mark":{"type":"text","color":"#ec3030","fontSize":13,"fontWeight":"bold"},"encoding":{"text":{"field":"t"}}}
   ]},
  {"width":181,"height":93.5,
   "encoding":{
    "x":{"field":"w","type":"quantitative","scale":{"domain":[420,750],"nice":false,"zero":false},"axis":{"orient":"top","title":null,"labels":false,"values":[425,437.5,450,462.5,475,487.5,500,512.5,525,537.5,550,562.5,575,587.5,600,612.5,625,637.5,650,662.5,675,687.5,700,712.5,725,737.5,750],"tickSize":{"condition":{"test":"datum.value % 50 === 0","value":-5},"value":-3}}},
    "y":{"field":"v","type":"quantitative","scale":{"domain":[-0.5,0.5],"nice":false,"zero":false},"axis":{"title":null,"labelPadding":3,"values":[-0.4,-0.3,-0.2,-0.1,0,0.1,0.2,0.3,0.4],"labelExpr":"abs(datum.value/0.2-round(datum.value/0.2))<1e-6 ? format(datum.value,'.1f') : ''","tickSize":{"condition":{"test":"abs(datum.value/0.2-round(datum.value/0.2))<1e-6","value":5},"value":3}}}
   },
   "layer":[
    {"data":{"name":"lbM"},"transform":[{"filter":"datum.s === 'LB'"}],"mark":{"type":"line","color":"#555555","strokeWidth":1.8,"clip":true}},
    {"data":{"name":"lbM"},"transform":[{"filter":"datum.s !== 'LB'"}],"mark":{"type":"line","color":"#ec3030","strokeWidth":1.8,"clip":true}},
    {"data":{"name":"lab"},"transform":[{"filter":"datum.p === 'bLB' && datum.t === 'LB'"}],"mark":{"type":"text","color":"#555555","fontSize":13,"fontWeight":"bold"},"encoding":{"text":{"field":"t"}}},
    {"data":{"name":"lab"},"transform":[{"filter":"datum.p === 'bLB' && datum.t !== 'LB'"}],"mark":{"type":"text","color":"#ec3030","fontSize":13,"fontWeight":"bold"},"encoding":{"text":{"field":"t"}}}
   ]},
  {"width":181,"height":93.5,
   "data":{"name":"dM"},
   "encoding":{
    "y":{"field":"v","type":"quantitative","scale":{"domain":[-0.025,0.545],"nice":false,"zero":false},"axis":{"title":null,"labelPadding":3,"values":[0,0.1,0.2,0.3,0.4,0.5],"labelExpr":"abs(datum.value/0.2-round(datum.value/0.2))<1e-6 ? format(datum.value,'.1f') : ''","tickSize":{"condition":{"test":"abs(datum.value/0.2-round(datum.value/0.2))<1e-6","value":5},"value":3}}}
   },
   "layer":[
    {"mark":{"type":"line","color":"#444444","strokeWidth":1.8,"clip":true},
     "encoding":{"x":{"field":"w","type":"quantitative","scale":{"domain":[420,750],"nice":false,"zero":false},"axis":{"orient":"top","title":null,"labels":false,"values":[425,437.5,450,462.5,475,487.5,500,512.5,525,537.5,550,562.5,575,587.5,600,612.5,625,637.5,650,662.5,675,687.5,700,712.5,725,737.5,750],"tickSize":{"condition":{"test":"datum.value % 50 === 0","value":-5},"value":-3}}}}},
    {"mark":{"type":"line","strokeOpacity":0},
     "encoding":{"x":{"field":"w","type":"quantitative","scale":{"domain":[420,750],"nice":false,"zero":false},"axis":{"orient":"bottom","title":"Wavelength (nm)","titlePadding":7,"labelPadding":8,"values":[425,437.5,450,462.5,475,487.5,500,512.5,525,537.5,550,562.5,575,587.5,600,612.5,625,637.5,650,662.5,675,687.5,700,712.5,725,737.5,750],"labelExpr":"datum.value % 50 === 0 ? format(datum.value,'d') : ''","tickSize":{"condition":{"test":"datum.value % 50 === 0","value":-5},"value":-3}}}}}
   ],
   "resolve":{"axis":{"x":"independent"}}}
 ]}
]},
{"title":{"text":"c","anchor":"start","frame":"bounds","fontSize":18,"fontWeight":"bold","offset":-17,"dx":-22},
 "spacing":0,"bounds":"flush",
 "resolve":{"scale":{"color":"independent"},"legend":{"color":"independent"}},
 "vconcat":[
  {"width":188,"height":144.5,"view":{"fill":"#ffffaa","stroke":null},
   "encoding":{
    "x":{"field":"w","type":"quantitative","scale":{"domain":[420,750],"nice":false,"zero":false},"axis":null},
    "y":{"field":"v","type":"quantitative","scale":{"domain":[-0.18,0.053],"nice":false,"zero":false},"axis":{"title":"CD","titleX":-36,"labelPadding":3,"values":[-0.15,-0.1,-0.05,0,0.05],"labelExpr":"abs(datum.value/0.1-round(datum.value/0.1))<1e-6 ? format(datum.value,'.1f') : ''","tickSize":{"condition":{"test":"abs(datum.value/0.1-round(datum.value/0.1))<1e-6","value":5},"value":3}}}
   },
   "layer":[
    {"data":{"name":"c1"},"mark":{"type":"line","strokeWidth":2,"clip":true},
     "encoding":{"color":{"field":"s","type":"nominal","scale":{"domain":["pristine","140 °C","180 °C","220 °C","260 °C"],"range":["#555555","#ee3535","#2b6fdb","#2ea565","#b98ae6"]},
      "legend":{"orient":"none","legendX":97,"legendY":45,"title":null,"strokeColor":"#000000","fillColor":"#ffffff","padding":2,"symbolType":"M-1.65,0H1.65","symbolSize":272,"symbolOffset":6,"symbolStrokeWidth":2,"labelFontSize":13,"labelFontWeight":"bold","labelColor":"#111111","labelOffset":12,"rowPadding":0,"cornerRadius":0}}}},
    {"data":{"name":"lab"},"transform":[{"filter":"datum.p === 'c1'"}],"mark":{"type":"text","align":"right","color":"#111111","fontSize":13,"fontWeight":"bold"},"encoding":{"text":{"field":"t"}}}
   ]},
  {"width":188,"height":144.5,"view":{"fill":"#ffffaa","stroke":null},
   "encoding":{
    "x":{"field":"w","type":"quantitative","scale":{"domain":[420,750],"nice":false,"zero":false},"axis":{"orient":"top","title":null,"labels":false,"values":[425,437.5,450,462.5,475,487.5,500,512.5,525,537.5,550,562.5,575,587.5,600,612.5,625,637.5,650,662.5,675,687.5,700,712.5,725,737.5,750],"tickSize":{"condition":{"test":"datum.value % 50 === 0","value":-5},"value":-3}}},
    "y":{"field":"v","type":"quantitative","scale":{"domain":[-0.148,0.504],"nice":false,"zero":false},"axis":{"title":"CD","titleX":-36,"labelPadding":3,"values":[-0.1,0,0.1,0.2,0.3,0.4,0.5],"labelExpr":"abs(datum.value/0.2-round(datum.value/0.2))<1e-6 ? format(datum.value,'.1f') : ''","tickSize":{"condition":{"test":"abs(datum.value/0.2-round(datum.value/0.2))<1e-6","value":5},"value":3}}}
   },
   "layer":[
    {"data":{"name":"c2"},"mark":{"type":"line","strokeWidth":2,"clip":true},
     "encoding":{"color":{"field":"s","type":"nominal","scale":{"domain":["pristine","140 °C","180 °C","220 °C","260 °C"],"range":["#555555","#ee3535","#2b6fdb","#2ea565","#b98ae6"]},"legend":null}}},
    {"data":{"name":"lab"},"transform":[{"filter":"datum.p === 'c2'"}],"mark":{"type":"text","align":"right","color":"#111111","fontSize":13,"fontWeight":"bold"},"encoding":{"text":{"field":"t"}}}
   ]},
  {"width":188,"height":144.5,"view":{"fill":"#dcf5a3","stroke":null},
   "encoding":{
    "x":{"field":"w","type":"quantitative","scale":{"domain":[420,750],"nice":false,"zero":false},"axis":{"orient":"top","title":null,"labels":false,"values":[425,437.5,450,462.5,475,487.5,500,512.5,525,537.5,550,562.5,575,587.5,600,612.5,625,637.5,650,662.5,675,687.5,700,712.5,725,737.5,750],"tickSize":{"condition":{"test":"datum.value % 50 === 0","value":-5},"value":-3}}},
    "y":{"field":"v","type":"quantitative","scale":{"domain":[-0.133,0.131],"nice":false,"zero":false},"axis":{"title":"CB","titleX":-36,"labelPadding":3,"values":[-0.1,-0.05,0,0.05,0.1],"labelExpr":"abs(datum.value/0.1-round(datum.value/0.1))<1e-6 ? format(datum.value,'.1f') : ''","tickSize":{"condition":{"test":"abs(datum.value/0.1-round(datum.value/0.1))<1e-6","value":5},"value":3}}}
   },
   "layer":[
    {"data":{"name":"c3"},"mark":{"type":"line","strokeWidth":2,"clip":true},
     "encoding":{"color":{"field":"s","type":"nominal","scale":{"domain":["pristine","140 °C","180 °C","220 °C","260 °C"],"range":["#555555","#ee3535","#2b6fdb","#2ea565","#b98ae6"]},"legend":null}}},
    {"data":{"name":"lab"},"transform":[{"filter":"datum.p === 'c3'"}],"mark":{"type":"text","align":"right","color":"#111111","fontSize":13,"fontWeight":"bold"},"encoding":{"text":{"field":"t"}}}
   ]},
  {"width":188,"height":144.5,"view":{"fill":"#dcf5a3","stroke":null},
   "encoding":{
    "y":{"field":"v","type":"quantitative","scale":{"domain":[-0.35,0.344],"nice":false,"zero":false},"axis":{"title":"CB","titleX":-36,"labelPadding":3,"values":[-0.3,-0.2,-0.1,0,0.1,0.2,0.3],"labelExpr":"abs(datum.value/0.2-round(datum.value/0.2))<1e-6 ? format(datum.value,'.1f') : ''","tickSize":{"condition":{"test":"abs(datum.value/0.2-round(datum.value/0.2))<1e-6","value":5},"value":3}}}
   },
   "layer":[
    {"data":{"name":"c4"},"mark":{"type":"line","strokeWidth":2,"clip":true},
     "encoding":{"color":{"field":"s","type":"nominal","scale":{"domain":["pristine","140 °C","180 °C","220 °C","260 °C"],"range":["#555555","#ee3535","#2b6fdb","#2ea565","#b98ae6"]},"legend":null},
      "x":{"field":"w","type":"quantitative","scale":{"domain":[420,750],"nice":false,"zero":false},"axis":{"orient":"top","title":null,"labels":false,"values":[425,437.5,450,462.5,475,487.5,500,512.5,525,537.5,550,562.5,575,587.5,600,612.5,625,637.5,650,662.5,675,687.5,700,712.5,725,737.5,750],"tickSize":{"condition":{"test":"datum.value % 50 === 0","value":-5},"value":-3}}}}},
    {"data":{"name":"lab"},"transform":[{"filter":"datum.p === 'c4'"}],"mark":{"type":"text","align":"right","color":"#111111","fontSize":13,"fontWeight":"bold"},
     "encoding":{"text":{"field":"t"},
      "x":{"field":"w","type":"quantitative","scale":{"domain":[420,750],"nice":false,"zero":false},"axis":{"orient":"bottom","title":"Wavelength (nm)","titlePadding":5,"labelPadding":8,"values":[425,437.5,450,462.5,475,487.5,500,512.5,525,537.5,550,562.5,575,587.5,600,612.5,625,637.5,650,662.5,675,687.5,700,712.5,725,737.5,750],"labelExpr":"datum.value % 50 === 0 ? format(datum.value,'d') : ''","tickSize":{"condition":{"test":"datum.value % 50 === 0","value":-5},"value":-3}}}}}
   ],
   "resolve":{"axis":{"x":"independent"}}}
 ]}
],
"config":{
 "font":"Liberation Sans",
 "view":{"stroke":null},
 "axis":{"labelFont":"Liberation Sans","titleFont":"Liberation Sans","labelFontSize":12,"titleFontSize":14,"titleFontWeight":"normal","labelColor":"#111111","titleColor":"#111111","domainColor":"#222222","tickColor":"#222222","grid":false,"labelOverlap":false,"labelFlush":false},
 "title":{"font":"Liberation Sans","color":"#111111"},
 "text":{"font":"Liberation Sans"},
 "legend":{"labelFont":"Liberation Sans"}
}
}
